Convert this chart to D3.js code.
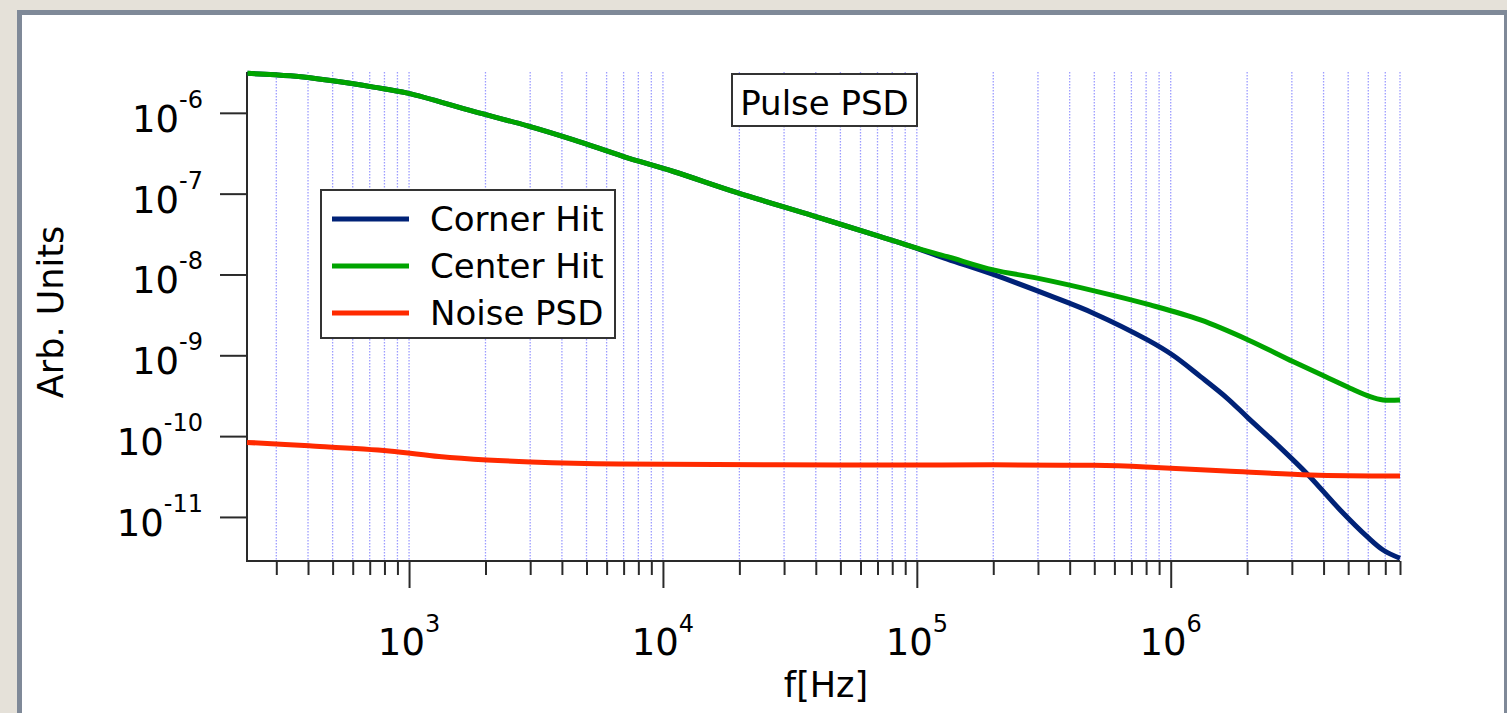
<!DOCTYPE html>
<html><head><meta charset="utf-8">
<script src="https://cdn.jsdelivr.net/npm/d3@7"></script>
<style>html,body{margin:0;padding:0;background:#e5e1d9;overflow:hidden}</style>
</head><body><svg id="c" width="1507" height="713"></svg>
<script>
// ---- data ----
const seriesNames = ["Corner Hit", "Center Hit", "Noise PSD"];
const seriesColors = ["#002277", "#00a400", "#ff2a00"];

const freqCorner = [231, 341, 491, 725, 987, 1794, 2930, 4450, 7000, 11000, 19600, 39100, 71800, 96900,
  132000, 200000, 336000, 496000, 810000, 1020000, 1310000, 1670000, 2020000, 2630000, 3480000,
  4650000, 5940000, 6860000, 8000000];
const corner = [3.08e-6, 2.87e-6, 2.51e-6, 2.08e-6, 1.75e-6, 1.04e-6, 6.9e-7, 4.63e-7, 2.88e-7, 1.88e-7,
  1.03e-7, 5.31e-8, 2.94e-8, 2.18e-8, 1.55e-8, 1.0e-8, 5.43e-9, 3.32e-9, 1.55e-9, 1.0e-9, 5.45e-10,
  2.94e-10, 1.67e-10, 7.8e-11, 3.31e-11, 1.22e-11, 5.7e-12, 3.9e-12, 3.08e-12];

const freqCenter = [231, 341, 491, 725, 987, 1794, 2930, 4450, 7000, 11000, 19600, 39100, 71800, 96900,
  132000, 200000, 298000, 514000, 830000, 1310000, 2020000, 3030000, 4060000, 5090000, 6100000,
  6860000, 8000000];
const center = [3.08e-6, 2.87e-6, 2.51e-6, 2.08e-6, 1.75e-6, 1.04e-6, 6.9e-7, 4.63e-7, 2.88e-7, 1.88e-7,
  1.03e-7, 5.31e-8, 2.94e-8, 2.18e-8, 1.66e-8, 1.14e-8, 9.0e-9, 6.14e-9, 4.2e-9, 2.74e-9, 1.55e-9,
  8.36e-10, 5.45e-10, 3.92e-10, 3.08e-10, 2.8e-10, 2.8e-10];

const freqNoise = [230, 404, 834, 1313, 2027, 3020, 6710, 49700, 498000, 873000, 1650000, 3560000, 8000000];
const noise = [8.36e-11, 7.6e-11, 6.56e-11, 5.6e-11, 5.07e-11, 4.8e-11, 4.53e-11, 4.4e-11, 4.35e-11,
  4.1e-11, 3.71e-11, 3.31e-11, 3.21e-11];

const xMajorTicks = [1e3, 1e4, 1e5, 1e6];
const xTickExponents = ["3", "4", "5", "6"];
const yMajorTicks = [1e-6, 1e-7, 1e-8, 1e-9, 1e-10, 1e-11];
const yTickExponents = ["-6", "-7", "-8", "-9", "-10", "-11"];
const xDomain = [230, 8e6];
const yDomain = [2.85e-12, 3.2e-6];
const xTitle = "f[Hz]";
const yTitle = "Arb. Units";
const chartTitle = "Pulse PSD";

// ---- drawing ----
const FONT = "'DejaVu Sans', Verdana, sans-serif";
const svg = d3.select("#c");
const m = {left: 247, right: 1400, top: 72, bottom: 561};
const x = d3.scaleLog().domain(xDomain).range([m.left, m.right]);
const y = d3.scaleLog().domain(yDomain).range([m.bottom, m.top]);

svg.append("rect").attr("width", 1507).attr("height", 713).attr("fill", "#e5e1d9");
svg.append("rect").attr("x", 19.5).attr("y", 12.5).attr("width", 1487).attr("height", 720)
  .attr("fill", "#ffffff").attr("stroke", "#7f8998").attr("stroke-width", 5);

// grid
const gridTicks = x.ticks();
svg.append("g").selectAll("line").data(gridTicks).join("line")
  .attr("x1", d => x(d)).attr("x2", d => x(d))
  .attr("y1", m.top).attr("y2", m.bottom)
  .attr("stroke", "#9c9cff").attr("stroke-width", 1.3).attr("stroke-dasharray", "1.5,1.5");

// axes
const minorTicks = gridTicks.filter(t => !xMajorTicks.some(M => Math.abs(M - t) / M < 1e-6));
const axisColor = "#2a2a2a";
function styleAxis(g) {
  g.select(".domain").remove();
  g.selectAll(".tick line").attr("stroke", axisColor).attr("stroke-width", 2);
  g.selectAll(".tick text").remove();
}
svg.append("g").attr("transform", `translate(0,${m.bottom})`)
  .call(d3.axisBottom(x).tickValues(minorTicks).tickSize(14).tickFormat("")).call(styleAxis);
svg.append("g").attr("transform", `translate(0,${m.bottom})`)
  .call(d3.axisBottom(x).tickValues(xMajorTicks).tickSize(27).tickFormat("")).call(styleAxis);
svg.append("g").attr("transform", `translate(${m.left},0)`)
  .call(d3.axisLeft(y).tickValues(yMajorTicks).tickSize(27).tickFormat("")).call(styleAxis);

svg.append("path")
  .attr("d", `M${m.left},${m.top}V${m.bottom}H${m.right}`)
  .attr("fill", "none").attr("stroke", axisColor).attr("stroke-width", 2);

// x tick labels
xMajorTicks.forEach((t, i) => {
  const tx = svg.append("text").attr("x", x(t)).attr("y", 655)
    .attr("text-anchor", "middle").attr("font-family", FONT).attr("font-size", 37).attr("fill", "#000");
  tx.append("tspan").text("10");
  tx.append("tspan").attr("font-size", 24).attr("dy", -23).text(xTickExponents[i]);
});
// y tick labels
yMajorTicks.forEach((t, i) => {
  const tx = svg.append("text").attr("x", 203).attr("y", y(t) + 19)
    .attr("text-anchor", "end").attr("font-family", FONT).attr("font-size", 37).attr("fill", "#000");
  tx.append("tspan").text("10");
  tx.append("tspan").attr("font-size", 24).attr("dy", -24).text(yTickExponents[i]);
});

// axis titles
svg.append("text").attr("x", 826).attr("y", 697).attr("text-anchor", "middle")
  .attr("font-family", FONT).attr("font-size", 35).text(xTitle);
svg.append("text").attr("transform", "translate(63,312) rotate(-90)").attr("text-anchor", "middle")
  .attr("font-family", FONT).attr("font-size", 35).text(yTitle);

// series
const series = [
  {f: freqCorner, v: corner},
  {f: freqCenter, v: center},
  {f: freqNoise, v: noise}
];
const line = d3.line().x(d => x(d[0])).y(d => y(d[1])).curve(d3.curveCatmullRom.alpha(0.5));
series.forEach((s, i) => {
  svg.append("path").datum(s.f.map((f, j) => [f, s.v[j]]))
    .attr("d", line).attr("fill", "none").attr("stroke", seriesColors[i])
    .attr("stroke-width", 5).attr("stroke-linejoin", "round");
});

// title box
svg.append("rect").attr("x", 732).attr("y", 74).attr("width", 185).attr("height", 52)
  .attr("fill", "#fff").attr("stroke", "#333").attr("stroke-width", 2);
svg.append("text").attr("x", 824.5).attr("y", 115).attr("text-anchor", "middle")
  .attr("font-family", FONT).attr("font-size", 34).text(chartTitle);

// legend
svg.append("rect").attr("x", 321).attr("y", 190).attr("width", 294).attr("height", 148)
  .attr("fill", "#fff").attr("stroke", "#333").attr("stroke-width", 2);
seriesNames.forEach((n, i) => {
  const ly = 219 + i * 47;
  svg.append("line").attr("x1", 332).attr("x2", 409).attr("y1", ly).attr("y2", ly)
    .attr("stroke", seriesColors[i]).attr("stroke-width", 5);
  svg.append("text").attr("x", 430).attr("y", ly + 12).attr("font-family", FONT)
    .attr("font-size", 34).text(n);
});
</script></body></html>
